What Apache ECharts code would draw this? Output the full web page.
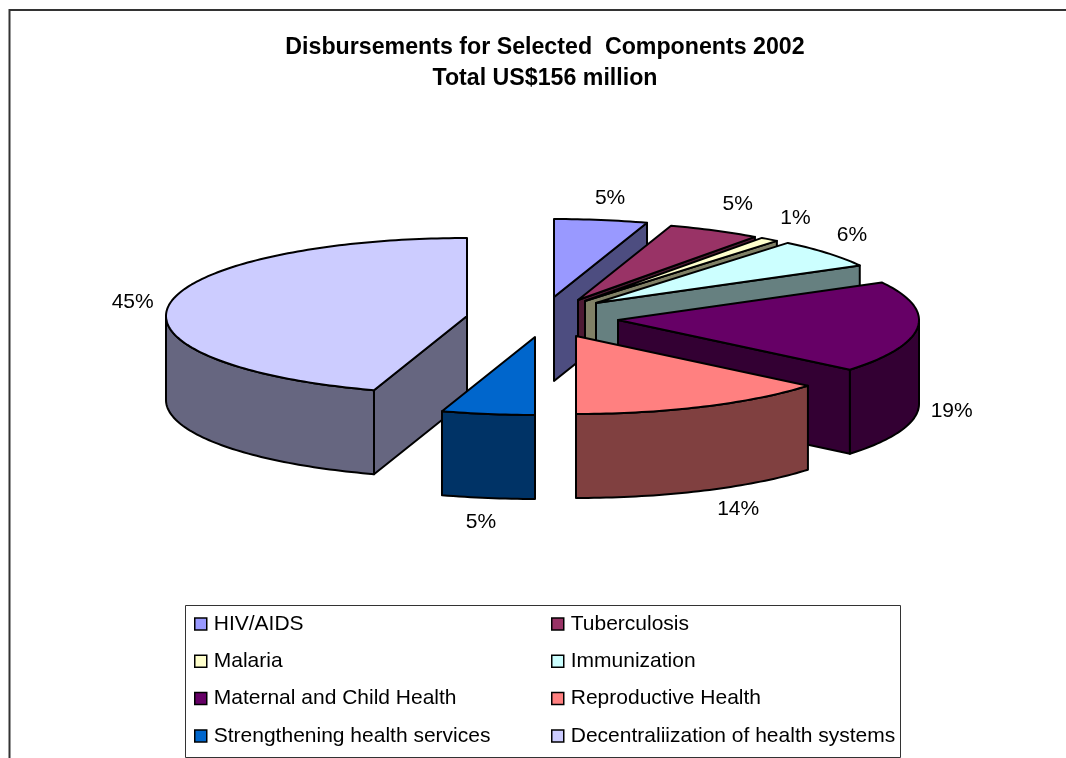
<!DOCTYPE html>
<html>
<head>
<meta charset="utf-8">
<style>html,body{margin:0;padding:0;background:#fff}#c{width:1066px;height:758px}</style>
<script src="https://cdn.jsdelivr.net/npm/echarts@6/dist/echarts.min.js"></script>
</head>
<body>
<div id="c"></div>
<script>
var categories = ['HIV/AIDS','Tuberculosis','Malaria','Immunization','Maternal and Child Health','Reproductive Health','Strengthening health services','Decentraliization of health systems'];
var values = [5,5,1,6,19,14,5,45];
var colors = ['#9999FF','#993366','#FFFFCC','#CCFFFF','#660066','#FF8080','#0066CC','#CCCCFF'];

// Projection of the tilted pie
var center = [525,318], radiusX = 301, radiusY = 78, depth = 84;
// Explosion of each slice away from the pie centre
var explodeX = [29,53,60,71,93,51,10,-58];
var explodeY = [-21,-18,-17,-15,2,18,19,-2];
// Percent label offset from the rim at the slice's middle angle
var labelDX = [9,23,26,24,34,34,-7,-37];
var labelDY = [-22,-26,-21,-18,84,103,108,-2];
// Back-to-front painting order
var drawOrder = [0,1,2,3,4,7,5,6];
var legendLeft = [0,2,4,6], legendRight = [1,3,5,7];

var total = values.reduce(function(a,b){return a+b;},0);
var startAngles = [], acc = 0;
values.forEach(function(v){ startAngles.push(acc/total*Math.PI*2); acc += v; });

function halfShade(hex){
  var n = parseInt(hex.slice(1),16);
  return 'rgb('+[(n>>16)&255,(n>>8)&255,n&255].map(function(c){return Math.round(c/2);}).join(',')+')';
}
var edge = {stroke:'#000',lineWidth:2,lineJoin:'round'};
function face(points,fill){
  return {type:'polygon',shape:{points:points},style:Object.assign({fill:fill},edge),silent:true};
}
function renderSlice(i){
  var a = startAngles[i], b = a + values[i]/total*Math.PI*2;
  var ax = center[0]+explodeX[i], ay = center[1]+explodeY[i];
  var rim = function(t,d){ return [ax+radiusX*Math.sin(t), ay-radiusY*Math.cos(t)+(d||0)]; };
  var arc = function(t0,t1,d){
    var n = Math.max(2,Math.ceil((t1-t0)/0.02)), p = [];
    for (var k=0;k<=n;k++) p.push(rim(t0+(t1-t0)*k/n,d));
    return p;
  };
  var top = [[ax,ay]].concat(arc(a,b));
  var wall = halfShade(colors[i]), kids = [];
  var radial = function(t){
    return face([[ax,ay],rim(t),rim(t,depth),[ax,ay+depth]],wall);
  };
  if (Math.sin(a) < -1e-6) kids.push(radial(a));
  if (Math.sin(b) > 1e-6) kids.push(radial(b));
  var lo = Math.max(a,Math.PI/2), hi = Math.min(b,Math.PI*1.5);
  if (hi > lo) kids.push(face(arc(lo,hi).concat(arc(lo,hi,depth).reverse()),wall));
  kids.push(face(top,colors[i]));
  var m = rim((a+b)/2);
  kids.push({type:'text',silent:true,style:{
    x:m[0]+labelDX[i],y:m[1]+labelDY[i],text:values[i]+'%',
    fill:'#000',font:'21px "Liberation Sans"',textAlign:'center',textVerticalAlign:'middle'
  }});
  return {type:'group',children:kids};
}
var series = drawOrder.map(function(i){
  return {
    type:'custom',name:categories[i],coordinateSystem:'none',silent:true,animation:false,
    itemStyle:{color:colors[i]},data:[[values[i]]],
    renderItem:function(){ return renderSlice(i); }
  };
});
function legendOf(indexes,left){
  return {
    orient:'vertical',left:left,top:613.5,itemWidth:12,itemHeight:12,itemGap:16.3,selectedMode:false,
    icon:'rect',padding:0,
    itemStyle:{borderColor:'#000',borderWidth:1.5},
    textStyle:{fontFamily:'Liberation Sans',fontSize:21,lineHeight:21,color:'#000',padding:[0,0,0,2]},
    data:indexes.map(function(i){return categories[i];})
  };
}
var chart = echarts.init(document.getElementById('c'),null,{renderer:'canvas'});
chart.setOption({
  backgroundColor:'#fff',animation:false,
  title:{
    text:'Disbursements for Selected  Components 2002\nTotal US$156 million',
    left:545,top:32,textAlign:'center',padding:0,
    textStyle:{fontFamily:'Liberation Sans',fontWeight:'bold',fontSize:23.2,lineHeight:31,color:'#000'}
  },
  legend:[legendOf(legendLeft,194),legendOf(legendRight,551)],
  graphic:[
    {type:'polyline',silent:true,z:-1,shape:{points:[[1066,10],[9.5,10],[9.5,758]]},style:{stroke:'#333',lineWidth:2,fill:null}},
    {type:'rect',silent:true,z:-1,shape:{x:185.5,y:605.5,width:715,height:152},style:{stroke:'#333',lineWidth:1,fill:'#fff'}}
  ],
  series:series
});
</script>
</body>
</html>
